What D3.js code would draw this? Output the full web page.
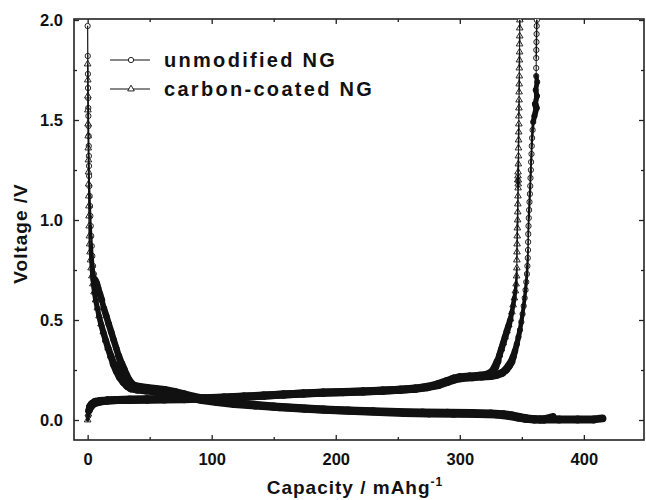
<!DOCTYPE html>
<html><head><meta charset="utf-8">
<script src="https://cdn.jsdelivr.net/npm/d3@7"></script>
<style>
body{margin:0;background:#fff;}
svg{display:block;font-family:"Liberation Sans",Arial,Helvetica,sans-serif;}
</style>
</head><body>
<svg id="chart" width="646" height="500"></svg>
<script>
// ---------- data ----------
const seriesNames = ["unmodified NG", "carbon-coated NG"];
const xTicks = [0, 100, 200, 300, 400];
const xMinorTicks = [50, 150, 250, 350];
const yTicks = [0.0, 0.5, 1.0, 1.5, 2.0];
const yMinorTicks = [0.25, 0.75, 1.25, 1.75];
const xTitle = "Capacity / mAhg";
const xTitleSup = "-1";
const yTitle = "Voltage /V";

// [capacity mAh/g, voltage V]
const unmodDischarge = [
  [0,1.97],[0.1,1.82],[0.2,1.73],[0.3,1.66],[0.4,1.61],[0.5,1.56],[0.6,1.52],[0.7,1.47],
  [0.8,1.42],[0.9,1.37],[1.0,1.32],[1.1,1.27],[1.2,1.22],[1.35,1.17],[1.6,1.12],[1.9,1.07],
  [2.2,1.02],[2.5,0.97],[2.9,0.92],[3.3,0.87],[3.8,0.82],[4.4,0.77],[5.0,0.73],[5.6,0.70],
  [6.3,0.69],[7.0,0.68],[8.2,0.66],[9.8,0.63],[11.4,0.60],[13,0.56],[15,0.52],[17,0.48],
  [19,0.44],[21,0.40],[23,0.36],[25,0.32],[27,0.285],[29,0.255],[31,0.225],[33,0.2],
  [35.5,0.18],[38,0.17],[42,0.165],[48,0.16],[55,0.155],[62,0.15],[70,0.14],[78,0.128],
  [86,0.116],[95,0.105],[105,0.095],[117,0.086],[130,0.078],[150,0.068],[170,0.06],
  [190,0.053],[210,0.048],[230,0.044],[250,0.04],[270,0.037],[290,0.036],[310,0.035],
  [325,0.033],[335,0.029],[342,0.023],[348,0.015],[353,0.009],[358,0.005],[365,0.003],
  [380,0.003],[395,0.003],[408,0.003],[415,0.008]
];
const unmodCharge = [
  [0.5,0.02],[1,0.045],[2,0.062],[3.5,0.075],[6,0.085],[10,0.092],[16,0.097],[24,0.1],
  [34,0.102],[48,0.104],[62,0.105],[78,0.107],[94,0.109],[110,0.112],[126,0.117],[142,0.122],
  [158,0.128],[174,0.133],[190,0.137],[206,0.14],[222,0.143],[238,0.147],[252,0.151],
  [264,0.156],[274,0.164],[283,0.175],[290,0.19],[296,0.203],[302,0.21],[310,0.214],
  [318,0.217],[325,0.22],[330,0.226],[334,0.235],[337,0.25],[339.5,0.27],[341.5,0.29],
  [343,0.315],[344.5,0.345],[346,0.38],[347.3,0.415],[348.5,0.45],[349.6,0.49],[350.6,0.53],
  [351.5,0.57],[352.3,0.61],[353,0.65],[353.6,0.69],[354.1,0.73],[354.5,0.77],[354.8,0.81],
  [355,0.85],[355.1,0.89],[355.2,0.93],[355.4,0.97],[355.6,1.01],[355.9,1.05],[356.2,1.09],
  [356.5,1.13],[356.8,1.17],[357,1.21],[357.3,1.25],[357.5,1.29],[357.8,1.33],[358,1.37],
  [358.3,1.41],[358.7,1.45],[359.2,1.49],[360.2,1.52],[361.8,1.56],[360.8,1.58],[362.2,1.62],
  [361.2,1.65],[362.4,1.69],[361.6,1.72],[361.6,1.76],
  [361.6,1.81],[361.7,1.85],[361.8,1.89],[361.9,1.93],[362,1.97],[362.1,2.0]
];
const carbonDischarge = [
  [0,1.78],[0.1,1.70],[0.15,1.62],[0.2,1.55],[0.3,1.48],[0.4,1.42],[0.5,1.36],[0.6,1.30],
  [0.7,1.24],[0.8,1.18],[0.9,1.12],[1.0,1.07],[1.1,1.02],[1.2,0.97],[1.4,0.92],[1.6,0.88],
  [1.9,0.84],[2.3,0.80],[2.8,0.76],[3.4,0.72],[4.2,0.68],[5.2,0.64],[6.4,0.60],[7.8,0.56],
  [9.2,0.52],[10.8,0.48],[12.6,0.44],[14.5,0.40],[16.5,0.36],[18.7,0.32],[21,0.28],
  [23.5,0.245],[26,0.215],[29,0.19],[32,0.17],[35,0.158],[40,0.152],[47,0.148],[55,0.143],
  [63,0.135],[72,0.125],[82,0.112],[92,0.1],[104,0.09],[118,0.08],[135,0.072],[155,0.064],
  [175,0.056],[195,0.05],[215,0.045],[235,0.04],[255,0.035],[275,0.033],[295,0.031],
  [315,0.03],[330,0.027],[340,0.02],[347,0.012],[353,0.006],[360,0.003],[368,0.003],[375,0.015]
];
const carbonCharge = [
  [0,0.0],[0.5,0.03],[1,0.05],[2,0.068],[3.5,0.08],[6,0.09],[10,0.095],[16,0.098],[24,0.1],
  [34,0.1],[48,0.101],[62,0.102],[78,0.104],[94,0.107],[110,0.111],[126,0.116],[142,0.121],
  [158,0.127],[174,0.132],[190,0.136],[206,0.139],[222,0.142],[238,0.146],[252,0.151],
  [264,0.157],[274,0.166],[282,0.178],[289,0.193],[295,0.207],[300,0.214],[308,0.218],
  [316,0.221],[322,0.226],[326,0.24],[328.5,0.265],[330.5,0.295],[332,0.325],[333.5,0.355],
  [335,0.385],[336.5,0.415],[338,0.445],[339.5,0.475],[340.8,0.505],[342,0.54],[343,0.575],
  [344,0.61],[344.8,0.645],[345.4,0.68],[345.8,0.72],[346,0.76],[346,0.80],[346.1,0.84],
  [346.2,0.88],[346.3,0.92],[346.4,0.96],[346.6,1.0],[346.7,1.04],[346.8,1.08],[346.9,1.12],
  [347,1.16],[346.8,1.2],[347.1,1.18],[346.9,1.22],[347.1,1.2],[347,1.24],[347.2,1.28],
  [347.3,1.32],[347.3,1.36],[347.4,1.40],[347.5,1.44],[347.6,1.48],[347.6,1.52],[347.7,1.56],
  [347.8,1.60],[347.8,1.64],[347.9,1.68],[348,1.72],[348,1.76],[348.1,1.80],[348.2,1.84],
  [348.2,1.88],[348.3,1.92],[348.3,1.96],[348.4,2.0]
];

// ---------- layout ----------
const svg = d3.select("#chart");
const L = 74, R = 644, T = 19, B = 440;
const x = d3.scaleLinear().domain([-11, 448.5]).range([L, R]);
const y = d3.scaleLinear().domain([-0.1, 2.0]).range([B, 20]);

svg.append("rect").attr("width", 646).attr("height", 500).attr("fill", "#fff");

svg.append("defs").append("clipPath").attr("id", "clip")
  .append("rect").attr("x", L).attr("y", T).attr("width", R - L).attr("height", B - T);

// axes (ticks inward on all four sides)
function styleAxis(g) {
  g.select(".domain").remove();
  g.selectAll(".tick line").attr("stroke", "#222").attr("stroke-width", 1.3);
}
const fmtX = d3.format("d"), fmtY = d3.format(".1f");

svg.append("g").attr("transform", `translate(0,${B})`)
  .call(d3.axisBottom(x).tickValues(xTicks).tickSize(-5).tickPadding(10).tickFormat(fmtX))
  .call(styleAxis)
  .call(g => g.selectAll("text").attr("font-size", 16.5).attr("font-weight", "bold")
    .attr("fill", "#111").attr("dy", null).attr("y", 25));
svg.append("g").attr("transform", `translate(0,${B})`)
  .call(d3.axisBottom(x).tickValues(xMinorTicks).tickSize(-3).tickFormat(""))
  .call(styleAxis);
svg.append("g").attr("transform", `translate(0,${T})`)
  .call(d3.axisTop(x).tickValues(xTicks).tickSize(-5).tickFormat(""))
  .call(styleAxis);
svg.append("g").attr("transform", `translate(0,${T})`)
  .call(d3.axisTop(x).tickValues(xMinorTicks).tickSize(-3).tickFormat(""))
  .call(styleAxis);

svg.append("g").attr("transform", `translate(${L},0)`)
  .call(d3.axisLeft(y).tickValues(yTicks).tickSize(-5).tickPadding(0).tickFormat(fmtY))
  .call(styleAxis)
  .call(g => g.selectAll("text").attr("font-size", 16.5).attr("font-weight", "bold")
    .attr("fill", "#111").attr("x", -11).attr("dy", "0.35em"));
svg.append("g").attr("transform", `translate(${L},0)`)
  .call(d3.axisLeft(y).tickValues(yMinorTicks).tickSize(-3).tickFormat(""))
  .call(styleAxis);
svg.append("g").attr("transform", `translate(${R},0)`)
  .call(d3.axisRight(y).tickValues(yTicks).tickSize(-5).tickFormat(""))
  .call(styleAxis);
svg.append("g").attr("transform", `translate(${R},0)`)
  .call(d3.axisRight(y).tickValues(yMinorTicks).tickSize(-3).tickFormat(""))
  .call(styleAxis);

// frame
svg.append("rect").attr("x", L).attr("y", T).attr("width", R - L).attr("height", B - T)
  .attr("fill", "none").attr("stroke", "#222").attr("stroke-width", 1.6);

// ---------- data marks ----------
const plot = svg.append("g").attr("clip-path", "url(#clip)");
const circleSym = d3.symbol(d3.symbolCircle, 22);
const triSym = d3.symbol(d3.symbolTriangle, 19);

// equally spaced samples pile up where the curve runs flat,
// so the connecting path is drawn heavier there
function segWidth([a, b]) {
  const dx = x(b[0]) - x(a[0]), dy = y(b[1]) - y(a[1]);
  const len = Math.hypot(dx, dy) || 1;
  const c = Math.min(1, 2.5 * Math.abs(dx) / len);
  return 1 + 7 * Math.pow(c, 0.8);
}
function drawPath(data) {
  plot.append("g").selectAll("line").data(d3.pairs(data)).join("line")
    .attr("x1", d => x(d[0][0])).attr("y1", d => y(d[0][1]))
    .attr("x2", d => x(d[1][0])).attr("y2", d => y(d[1][1]))
    .attr("stroke", "#111").attr("stroke-linecap", "round")
    .attr("stroke-width", segWidth);
}
function drawMarkers(data, sym) {
  plot.append("g").selectAll("path").data(data).join("path")
    .attr("transform", d => `translate(${x(d[0])},${y(d[1])})`)
    .attr("d", sym)
    .attr("fill", "#fff").attr("stroke", "#111").attr("stroke-width", 0.9);
}
drawMarkers(unmodDischarge, circleSym);
drawMarkers(unmodCharge, circleSym);
drawMarkers(carbonDischarge, triSym);
drawMarkers(carbonCharge, triSym);
[unmodDischarge, unmodCharge, carbonDischarge, carbonCharge].forEach(drawPath);

// ---------- legend ----------
const legend = svg.append("g");
const legendSyms = [circleSym, triSym];
seriesNames.forEach((name, i) => {
  const ly = 60 + i * 29;
  legend.append("line").attr("x1", 110).attr("x2", 150).attr("y1", ly).attr("y2", ly)
    .attr("stroke", "#111").attr("stroke-width", 1);
  legend.append("path").attr("transform", `translate(131,${ly})`).attr("d", legendSyms[i])
    .attr("fill", "#fff").attr("stroke", "#111").attr("stroke-width", 0.9);
  legend.append("text").attr("x", 164).attr("y", ly + 7)
    .attr("font-size", 20).attr("font-weight", "bold").attr("letter-spacing", 2.3)
    .attr("fill", "#111").text(name);
});

// ---------- axis titles ----------
const xt = svg.append("text").attr("x", 355).attr("y", 494).attr("text-anchor", "middle")
  .attr("font-size", 19).attr("font-weight", "bold").attr("letter-spacing", 1).attr("fill", "#111");
xt.append("tspan").text(xTitle);
xt.append("tspan").attr("dy", -8).attr("font-size", 12).text(xTitleSup);

svg.append("text").attr("transform", `translate(27,${(T + B) / 2 + 4}) rotate(-90)`)
  .attr("text-anchor", "middle").attr("font-size", 19).attr("font-weight", "bold")
  .attr("letter-spacing", 1).attr("fill", "#111").text(yTitle);
</script>
</body></html>
